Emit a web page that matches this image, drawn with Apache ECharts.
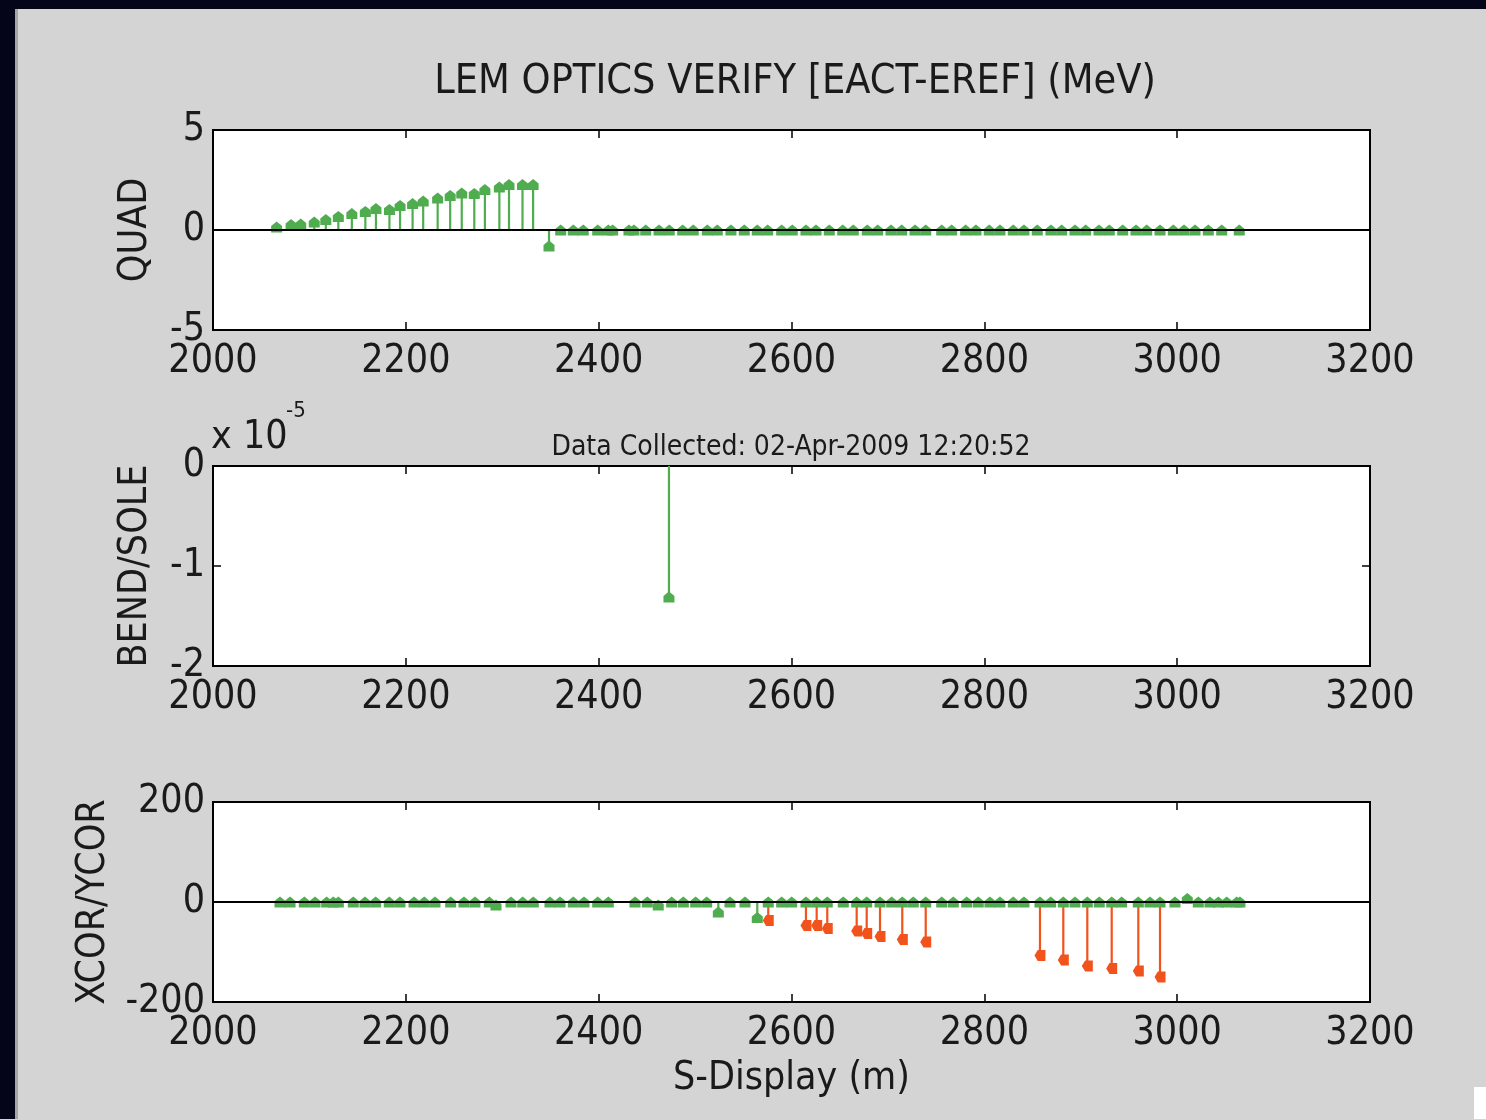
<!DOCTYPE html>
<html>
<head>
<meta charset="utf-8">
<script src="https://cdn.jsdelivr.net/npm/echarts@6/dist/echarts.min.js"></script>
<style>
html, body { margin: 0; padding: 0; background: #05051a; overflow: hidden; }
#panel { position: absolute; left: 15px; top: 9px; right: 0; bottom: 0; background: #d4d4d4; border-left: 3px solid #a6a6a6; }
#corner { position: absolute; left: 1474px; top: 1087px; right: 0; bottom: 0; background: #fff; }
#main { position: absolute; left: 0; top: 0; width: 1486px; height: 1119px; }
</style>
</head>
<body>
<div id="panel"></div>
<div id="corner"></div>
<div id="main"></div>
<script>
// QUAD: energy error per quad (MeV) vs S position (m)
var quadS = [2066, 2081, 2091, 2105, 2117, 2130, 2144, 2158, 2169, 2183, 2194, 2207, 2218, 2233, 2246, 2258,
    2271, 2282, 2297, 2307, 2321, 2332, 2348.5, 2360.6, 2373.7, 2384, 2399, 2410, 2414.5, 2431.4, 2436.6,
    2448.8, 2462.6, 2473.2, 2487.1, 2498.1, 2512.7, 2523, 2537.2, 2551, 2564.5, 2575.3, 2589.8, 2600.8,
    2615, 2625.4, 2639.2, 2653.1, 2664.1, 2678.6, 2689.4, 2703.2, 2714.3, 2728.1, 2739.2, 2755.8, 2766.1,
    2780.6, 2791.3, 2805.1, 2816.2, 2830, 2841.1, 2854.9, 2869.1, 2880.2, 2894, 2905.1, 2918.9, 2929.6,
    2943.5, 2957.3, 2968.4, 2982.2, 2996, 3007.1, 3018.5, 3032.3, 3046.2, 3064.4];
var quadE = [0.15, 0.27, 0.3, 0.4, 0.52, 0.68, 0.82, 0.93, 1.07, 1.03, 1.23, 1.32, 1.45, 1.6, 1.73, 1.85,
    1.83, 2.02, 2.15, 2.27, 2.27, 2.27, -0.8, 0, 0, 0, 0, 0, 0, 0, 0,
    0, 0, 0, 0, 0, 0, 0, 0, 0, 0, 0, 0, 0,
    0, 0, 0, 0, 0, 0, 0, 0, 0, 0, 0, 0, 0,
    0, 0, 0, 0, 0, 0, 0, 0, 0, 0, 0, 0, 0,
    0, 0, 0, 0, 0, 0, 0, 0, 0, 0];

// BEND/SOLE
var bendS = [2472.9];
var bendE = [-1.31e-5];

// XCOR/YCOR, in tolerance (green)
var corS = [2069.5, 2079.9, 2094.7, 2105.8, 2117.9, 2124.8, 2130, 2145.5, 2157.6, 2168.7, 2182.8, 2193.9,
    2208.5, 2219.1, 2230.2, 2246.5, 2260.3, 2271.7, 2286.6, 2293.5, 2309.1, 2321.2, 2332.2, 2349.5, 2359.9,
    2373.7, 2384.8, 2399, 2410, 2437.7, 2450.4, 2461.8, 2475.7, 2487.8, 2500.6, 2512, 2524.1, 2536.2, 2551.8,
    2564.5, 2575.9, 2589.8, 2600.2, 2615, 2626.1, 2637.1, 2653.7, 2667.6, 2678, 2691.8, 2703.9, 2714.9,
    2726.3, 2739.2, 2755.8, 2767.8, 2781.7, 2793.7, 2805.8, 2816.2, 2830, 2841.1, 2857.7, 2868.8, 2881.9,
    2894, 2906.8, 2919.2, 2932.1, 2942.4, 2959.7, 2971.8, 2982.2, 2997.7, 3010.5, 3021.9, 3034, 3042.7,
    3051.4, 3061.7, 3065.1];
var corE = [0, 0, 0, 0, 0, 0, 0, 0, 0, 0, 0, 0,
    0, 0, 0, 0, 0, 0, 0, -6, 0, 0, 0, 0, 0,
    0, 0, 0, 0, 0, 0, -6, 0, 0, 0, 0, -20, 0, 0,
    -31, 0, 0, 0, 0, 0, 0, 0, 0, 0, 0, 0, 0,
    0, 0, 0, 0, 0, 0, 0, 0, 0, 0, 0, 0, 0,
    0, 0, 0, 0, 0, 0, 0, 0, 0, 7, 0, 0, 0,
    0, 0, 0];

// XCOR/YCOR, out of tolerance (red)
var badS = [2575.9, 2615, 2626.1, 2637.1, 2667.6, 2678, 2691.8, 2714.9, 2739.2, 2857.7, 2881.9, 2906.8,
    2932.1, 2959.7, 2982.2];
var badE = [-37, -47, -47, -53, -58, -63, -69, -75, -80, -107, -116, -128, -133, -138, -150];

var sTicks = [2000, 3200, 200];

var FONT = '"Liberation Sans Narrow", "DejaVu Sans Condensed", "Liberation Sans", sans-serif';
var GREEN = '#4fac4f';
var RED = '#f2521c';
var HOUSE = 'path://M5,0L10,4L10,10L0,10L0,4Z';
var FLAG = 'path://M0,5L3,1L10,1L10,9L3,9Z';

function pairs(xs, ys) {
    return xs.map(function (x, i) { return [x, ys[i]]; });
}

function stem(params, api) {
    var a = api.coord([api.value(0), 0]);
    var b = api.coord([api.value(0), api.value(1)]);
    return {
        type: 'line',
        shape: { x1: a[0], y1: a[1], x2: b[0], y2: b[1] },
        style: { stroke: api.visual('color'), lineWidth: 2.2 }
    };
}

var tickStyle = { inside: true, length: 8, lineStyle: { color: '#000', width: 1.5 } };
var labelStyle = { color: '#1a1a1a', fontSize: 39, fontFamily: FONT };
var nameStyle = { color: '#1a1a1a', fontSize: 39, fontFamily: FONT };

var grids = [], xAxes = [], yAxes = [];
var tops = [130, 466, 802];
var yRanges = [[-5, 5, 5], [-2e-5, 0, 1e-5], [-200, 200, 200]];
var yNames = ['QUAD', 'BEND/SOLE', 'XCOR/YCOR'];
var yGaps = [58, 58, 100];

tops.forEach(function (t, g) {
    grids.push({
        left: 213, top: t, width: 1157, height: 200, show: true,
        backgroundColor: '#fff', borderColor: '#000', borderWidth: 2
    });
    ['bottom', 'top'].forEach(function (pos) {
        xAxes.push({
            type: 'value', gridIndex: g, position: pos,
            min: sTicks[0], max: sTicks[1], interval: sTicks[2],
            axisLine: { show: false, onZero: false },
            axisTick: tickStyle,
            axisLabel: pos === 'bottom' ? Object.assign({
                margin: 12,
                formatter: function (v) { return String(v); }
            }, labelStyle) : { show: false },
            splitLine: { show: false },
            name: (pos === 'bottom' && g === 2) ? 'S-Display (m)' : '',
            nameLocation: 'middle', nameGap: 57, nameTextStyle: nameStyle
        });
    });
    ['left', 'right'].forEach(function (pos) {
        yAxes.push({
            type: 'value', gridIndex: g, position: pos,
            min: yRanges[g][0], max: yRanges[g][1], interval: yRanges[g][2],
            axisLine: { show: false, onZero: false },
            axisTick: tickStyle,
            axisLabel: pos === 'left' ? Object.assign({
                margin: 8,
                formatter: function (v) { return g === 1 ? String(Math.round(v / 1e-5)) : String(v); }
            }, labelStyle) : { show: false },
            splitLine: { show: false },
            name: pos === 'left' ? yNames[g] : '',
            nameLocation: 'middle', nameRotate: 90, nameGap: yGaps[g], nameTextStyle: nameStyle
        });
    });
});

function stemSeries(g, data, color) {
    return {
        type: 'custom', xAxisIndex: g * 2, yAxisIndex: g * 2, renderItem: stem,
        encode: { x: 0, y: 1 }, itemStyle: { color: color }, data: data, silent: true, z: 2
    };
}
function markSeries(g, data, color, symbol) {
    return {
        type: 'scatter', xAxisIndex: g * 2, yAxisIndex: g * 2, symbol: symbol, symbolSize: 11,
        itemStyle: { color: color, opacity: 1 }, data: data, silent: true, z: 3
    };
}
function baseLine(g) {
    return {
        type: 'line', xAxisIndex: g * 2, yAxisIndex: g * 2, symbol: 'none', silent: true, z: 4,
        lineStyle: { color: '#000', width: 2 },
        data: [[sTicks[0], 0], [sTicks[1], 0]]
    };
}

var myChart = echarts.init(document.getElementById('main'));
var option = {
    backgroundColor: 'transparent',
    animation: false,
    title: [{
        text: 'LEM OPTICS VERIFY [EACT-EREF] (MeV)',
        left: 790, top: 57, textAlign: 'center',
        textStyle: { color: '#1a1a1a', fontSize: 41, fontWeight: 'normal', fontFamily: FONT }
    }, {
        text: 'Data Collected: 02-Apr-2009 12:20:52',
        left: 786, top: 429, textAlign: 'center',
        textStyle: { color: '#1a1a1a', fontSize: 28, fontWeight: 'normal', fontFamily: FONT }
    }],
    graphic: [{
        type: 'text', left: 211, top: 418,
        style: { text: 'x 10', fill: '#1a1a1a', font: '39px ' + FONT }
    }, {
        type: 'text', left: 286, top: 400,
        style: { text: '-5', fill: '#1a1a1a', font: '22px ' + FONT }
    }],
    grid: grids,
    xAxis: xAxes,
    yAxis: yAxes,
    series: [
        stemSeries(0, pairs(quadS, quadE), GREEN),
        markSeries(0, pairs(quadS, quadE), GREEN, HOUSE),
        baseLine(0),
        stemSeries(1, pairs(bendS, bendE), GREEN),
        markSeries(1, pairs(bendS, bendE), GREEN, HOUSE),
        stemSeries(2, pairs(corS, corE), GREEN),
        markSeries(2, pairs(corS, corE), GREEN, HOUSE),
        stemSeries(2, pairs(badS, badE), RED),
        markSeries(2, pairs(badS, badE), RED, FLAG),
        baseLine(2)
    ]
};
myChart.setOption(option);
</script>
</body>
</html>
